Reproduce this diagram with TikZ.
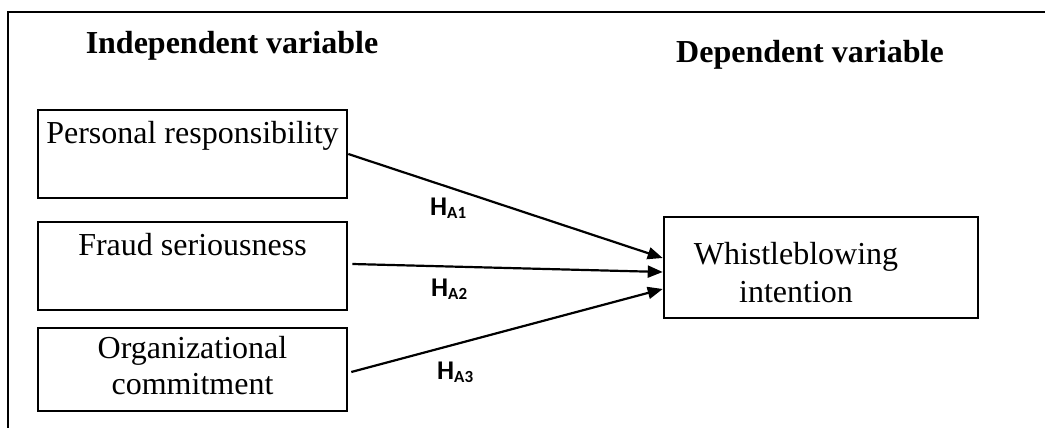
\documentclass[tikz,border=0pt]{standalone}
\usepackage{fontspec}
\setmainfont{Liberation Serif}
\newfontfamily\hypfont{Carlito}
\usepackage{tikz}
\usetikzlibrary{arrows.meta}
\newcommand{\hyp}[1]{{\hypfont\bfseries\fontsize{27}{30}\selectfont H\raisebox{-3pt}{\fontsize{17}{20}\selectfont A#1}}}

\begin{document}
\begin{tikzpicture}[x=1pt,y=-1pt,
  varbox/.style={draw,line width=2.6pt,rectangle,minimum width=309pt,minimum height=#1,inner sep=0pt,align=center,font=\fontsize{32}{36}\selectfont},
  head/.style={anchor=base,font=\fontsize{32}{36}\selectfont\bfseries},
  hyparrow/.style={line width=2.2pt,-{Triangle[length=15pt,width=12pt]}}]
\useasboundingbox (0,0) rectangle (1045,428);
\draw[line width=2.6pt] (1045,12) -- (8,12) -- (8,428);
\node[head] (indep) at (232,54) {Independent variable};
\node[head] (dep) at (810,63) {Dependent variable};
\node[varbox=88pt] (pr) at (192.5,154) {Personal responsibility\strut\\\strut};
\node[varbox=88pt] (fs) at (192.5,266) {Fraud seriousness\strut\\\strut};
\node[varbox=83pt] (oc) at (192.5,369.5) {Organizational\strut\\commitment\strut};
\node[draw,line width=2.6pt,rectangle,minimum width=314pt,minimum height=101pt,inner sep=0pt] (wb) at (821,267.5) {};
\node[align=center,font=\fontsize{32}{38}\selectfont] (wbtext) at (796,275.5) {Whistleblowing\strut\\intention\strut};
\draw[hyparrow] (pr.east) -- ([yshift=9.5pt]wb.west);
\draw[hyparrow] ([xshift=4pt,yshift=2pt]fs.east) -- ([yshift=-4.5pt]wb.west);
\draw[hyparrow] ([xshift=3pt,yshift=-2.5pt]oc.east) -- ([yshift=-21.5pt]wb.west);
\node[anchor=base west,inner sep=0pt] (h1) at (430,215) {\hyp{1}};
\node[anchor=base west,inner sep=0pt] (h2) at (431,296) {\hyp{2}};
\node[anchor=base west,inner sep=0pt] (h3) at (437,379) {\hyp{3}};
\end{tikzpicture}
\end{document}
